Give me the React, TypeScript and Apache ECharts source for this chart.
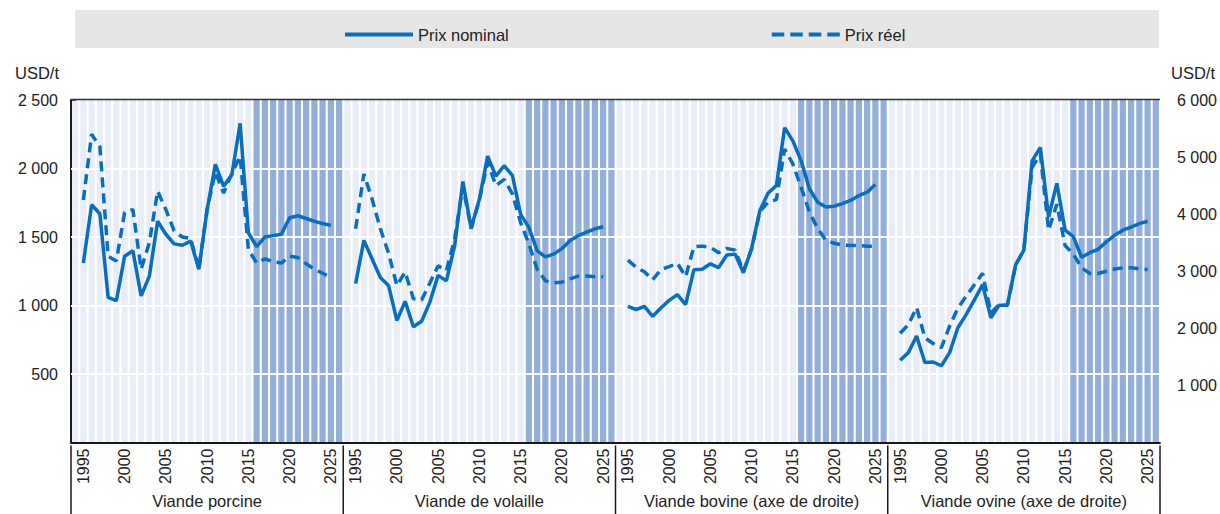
import React, { useEffect, useRef } from 'react';
import * as echarts from 'echarts';

// ---------- Data ----------
const years = ['1995','1996','1997','1998','1999','2000','2001','2002','2003','2004','2005','2006','2007','2008','2009','2010','2011','2012','2013','2014','2015','2016','2017','2018','2019','2020','2021','2022','2023','2024','2025'];
// one blank slot on each side of every panel
const categories = ['', ...years, ' '];

const porkNominal = [1310,1735,1670,1060,1035,1360,1400,1070,1215,1615,1520,1450,1440,1470,1265,1700,2030,1870,1955,2330,1530,1430,1500,1510,1520,1640,1655,1635,1615,1598,1585];
const porkReal = [1770,2250,2160,1360,1325,1680,1700,1265,1460,1835,1700,1545,1500,1490,1270,1700,1975,1820,1965,2090,1410,1310,1340,1320,1310,1360,1350,1305,1265,1235,1205];

const poultryNominal = [1160,1475,1340,1205,1145,890,1030,845,885,1025,1220,1180,1435,1905,1565,1775,2090,1945,2020,1950,1665,1570,1400,1355,1375,1415,1475,1510,1535,1560,1575];
const poultryReal = [1560,1960,1775,1560,1380,1145,1245,1050,1040,1165,1290,1255,1485,1870,1560,1770,2045,1875,1920,1815,1605,1450,1265,1180,1165,1170,1195,1215,1215,1210,1210];

const beefNominal = [2385,2330,2385,2210,2355,2490,2590,2415,3025,3035,3130,3065,3285,3300,2975,3400,4065,4370,4500,5515,5285,4935,4445,4210,4125,4140,4185,4240,4325,4385,4520];
const beefReal = [3195,3070,2990,2850,3025,3080,3140,2905,3430,3440,3420,3325,3400,3370,3000,3390,4050,4210,4255,5140,4880,4470,4040,3750,3545,3490,3460,3450,3450,3440,3440];

const muttonNominal = [1440,1575,1865,1400,1410,1345,1575,2010,2240,2500,2765,2185,2405,2405,3110,3370,4935,5170,3950,4540,3720,3605,3245,3325,3385,3515,3630,3720,3775,3835,3875];
const muttonReal = [1915,2065,2365,1835,1735,1660,2040,2355,2560,2765,2965,2270,2415,2400,3110,3370,4820,5050,3720,4175,3450,3300,3060,2960,2960,3000,3040,3060,3060,3040,3030];

const panelNames = ['Viande porcine', 'Viande de volaille', 'Viande bovine (axe de droite)', 'Viande ovine (axe de droite)'];
const nominalSeries = [porkNominal, poultryNominal, beefNominal, muttonNominal];
const realSeries = [porkReal, poultryReal, beefReal, muttonReal];
const axisMax = [2500, 2500, 6000, 6000];
const projectionStart = '2016';
const legendNames = ['Prix nominal', 'Prix réel'];

// ---------- Style ----------
const FONT = "'Liberation Sans Narrow', 'Liberation Sans', Arial, sans-serif";
const BLUE = '#0a6ebd';
const LIGHT = '#e8edf7';
const DARK = '#92aedb';
const INK = '#222222';
const PL = 71;
const PW = 272.25;
const TOP = 100;
const H = 345.5;

const SOLID_ICON = 'path://M0,0h68v4h-68z';
const DASH_ICON = 'path://M0,0h12.5v4h-12.5zM18.5,0h12.5v4h-12.5zM37,0h12.5v4h-12.5zM55.5,0h12.5v4h-12.5z';

const fmt = (v: number) => {
  if (v === 0) return '';
  const s = String(v);
  return s.length > 3 ? s.slice(0, s.length - 3) + ' ' + s.slice(s.length - 3) : s;
};

export default function App() {
  const ref = useRef<HTMLDivElement>(null);

  useEffect(() => {
    if (!ref.current) return;
    const chart = echarts.init(ref.current, undefined, { renderer: 'svg' });
    const projIdx = categories.indexOf(projectionStart);

    const grids = panelNames.map((_, i) => ({ left: PL + i * PW, top: TOP, width: PW, height: H }));

    const xAxes = panelNames.map((name, i) => ({
      type: 'category',
      gridIndex: i,
      data: categories,
      boundaryGap: true,
      z: 3,
      axisTick: { show: false },
      axisLine: { show: true, lineStyle: { color: '#1a1a1a', width: 2 } },
      axisLabel: {
        rotate: 90,
        interval: (_idx: number, val: string) => /^\d{4}$/.test(val) && Number(val) % 5 === 0,
        fontSize: 16,
        color: INK,
        margin: 6,
        fontFamily: FONT,
      },
      splitLine: { show: false },
      name,
      nameLocation: 'middle',
      nameGap: 49,
      nameTextStyle: { fontSize: 16.5, color: INK, fontFamily: FONT },
    }));

    const yAxes: any[] = [
      {
        type: 'value', gridIndex: 0, min: 0, max: 2500, interval: 500, z: 3,
        axisLine: { show: true, lineStyle: { color: '#1a1a1a', width: 2 } },
        axisTick: { show: true, inside: true, length: 5, lineStyle: { color: '#1a1a1a', width: 1.5 } },
        axisLabel: { formatter: fmt, fontSize: 16, margin: 13, color: INK, fontFamily: FONT },
        splitLine: { show: false },
      },
      { type: 'value', gridIndex: 1, min: 0, max: 2500, interval: 500, show: false },
      { type: 'value', gridIndex: 2, min: 0, max: 6000, interval: 1200, show: false },
      {
        type: 'value', gridIndex: 3, min: 0, max: 6000, interval: 1000, position: 'right', z: 3,
        axisLine: { show: false },
        axisTick: { show: false },
        axisLabel: { formatter: fmt, fontSize: 16, margin: 17, color: INK, fontFamily: FONT },
        splitLine: { show: false },
      },
    ];

    const series: any[] = [];
    panelNames.forEach((_, i) => {
      const max = axisMax[i];
      const step = max / 5;
      series.push({
        type: 'bar',
        xAxisIndex: i,
        yAxisIndex: i,
        silent: true,
        z: 1,
        barCategoryGap: '25%',
        data: categories.map((_c, idx) => ({ value: max, itemStyle: { color: idx >= projIdx ? DARK : LIGHT } })),
        markLine: {
          silent: true,
          symbol: 'none',
          label: { show: false },
          lineStyle: { color: '#ffffff', width: 2, type: 'solid' },
          data: [1, 2, 3, 4].map((k) => ({ yAxis: k * step })),
        },
      });
      series.push({
        type: 'line',
        name: legendNames[0],
        xAxisIndex: i,
        yAxisIndex: i,
        z: 5,
        symbol: 'none',
        data: ['-', ...nominalSeries[i], '-'],
        lineStyle: { color: BLUE, width: 3.5 },
        itemStyle: { color: BLUE },
      });
      series.push({
        type: 'line',
        name: legendNames[1],
        xAxisIndex: i,
        yAxisIndex: i,
        z: 5,
        symbol: 'none',
        data: ['-', ...realSeries[i], '-'],
        lineStyle: { color: BLUE, width: 3.5, type: [10, 6] },
        itemStyle: { color: BLUE },
      });
    });

    const graphic: any[] = [
      { type: 'rect', z: -10, shape: { x: 75, y: 10, width: 1084, height: 38 }, style: { fill: '#e6e6e6' } },
      { type: 'text', z: 10, x: 15, y: 73, style: { text: 'USD/t', fontSize: 16.5, fill: INK, fontFamily: FONT, verticalAlign: 'middle', align: 'left' } },
      { type: 'text', z: 10, x: 1171, y: 73, style: { text: 'USD/t', fontSize: 16.5, fill: INK, fontFamily: FONT, verticalAlign: 'middle', align: 'left' } },
      { type: 'line', z: 10, shape: { x1: PL, y1: 99.5, x2: PL + 4 * PW, y2: 99.5 }, style: { stroke: '#333333', lineWidth: 1.5 } },
    ];
    for (let k = 0; k <= 4; k++) {
      const x = PL + k * PW;
      graphic.push({ type: 'line', z: 10, shape: { x1: x, y1: 445.5, x2: x, y2: 514 }, style: { stroke: '#1a1a1a', lineWidth: 1.5 } });
    }

    chart.setOption({
      animation: false,
      textStyle: { fontFamily: FONT },
      legend: {
        data: [
          { name: legendNames[0], icon: SOLID_ICON },
          { name: legendNames[1], icon: DASH_ICON },
        ],
        left: 340,
        top: 21,
        itemWidth: 68,
        itemHeight: 4,
        itemGap: 263,
        selectedMode: false,
        textStyle: { fontSize: 16.5, color: INK, fontFamily: FONT },
      },
      grid: grids,
      xAxis: xAxes,
      yAxis: yAxes,
      series,
      graphic,
    });

    return () => chart.dispose();
  }, []);

  return <div ref={ref} style={{ position: 'absolute', left: 0, top: 0, width: 1220, height: 514 }} />;
}
